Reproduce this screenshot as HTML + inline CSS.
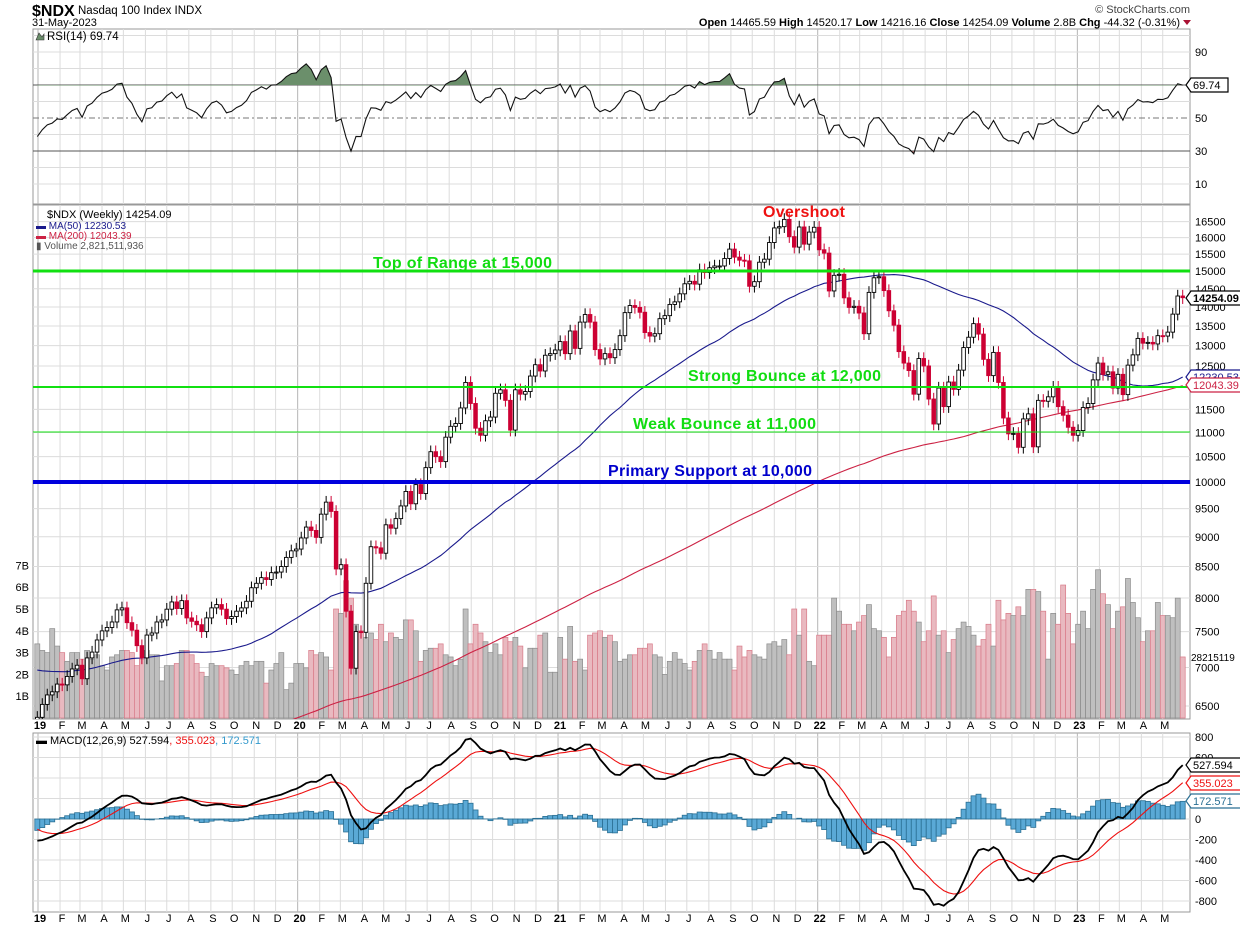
<!DOCTYPE html>
<html><head><meta charset="utf-8"><style>
html,body{margin:0;padding:0;background:#fff;}
svg{display:block;font-family:"Liberation Sans",sans-serif;}
</style></head><body>
<svg id="chart" width="1240" height="928" viewBox="0 0 1240 928" xmlns="http://www.w3.org/2000/svg">
<defs>
<clipPath id="clipMain"><rect x="33" y="205" width="1157" height="514"/></clipPath>
<clipPath id="clipRsiHi"><rect x="33" y="29" width="1157" height="56.5"/></clipPath>
<clipPath id="clipRsiLo"><rect x="33" y="151" width="1157" height="53"/></clipPath>
<clipPath id="clipMacd"><rect x="33" y="733" width="1157" height="179"/></clipPath>
</defs>
<g id="grid"></g>
<g id="vol" clip-path="url(#clipMain)"></g>
<g id="mas" clip-path="url(#clipMain)"></g>
<g id="candles" clip-path="url(#clipMain)"></g>
<g id="rsi"></g>
<g id="macd" clip-path="url(#clipMacd)"></g>
<g id="ann">
  <line x1="33" x2="1190" y1="271" y2="271" stroke="#11e011" stroke-width="3"/>
  <line x1="33" x2="1190" y1="387" y2="387" stroke="#11e011" stroke-width="2"/>
  <line x1="33" x2="1190" y1="432" y2="432" stroke="#11e011" stroke-width="1"/>
  <line x1="33" x2="1190" y1="482" y2="482" stroke="#0000dd" stroke-width="4"/>
  <text x="763" y="217" font-size="16" font-weight="bold" fill="#ee1111" textLength="82">Overshoot</text>
  <text x="373" y="268" font-size="16" font-weight="bold" fill="#11dd11" textLength="179">Top of Range at 15,000</text>
  <text x="688" y="381" font-size="16" font-weight="bold" fill="#11dd11" textLength="193">Strong Bounce at 12,000</text>
  <text x="633" y="429" font-size="16" font-weight="bold" fill="#11dd11" textLength="183">Weak Bounce at 11,000</text>
  <text x="608" y="476" font-size="16" font-weight="bold" fill="#0000cc" textLength="204">Primary Support at 10,000</text>
</g>
<g id="labels">
  <text x="32" y="16" font-size="16" font-weight="bold">$NDX</text>
  <text x="78" y="14" font-size="11.5">Nasdaq 100 Index  INDX</text>
  <text x="32" y="26" font-size="11">31-May-2023</text>
  <text x="1190" y="13" font-size="11" fill="#444" text-anchor="end">© StockCharts.com</text>
  <text x="1180" y="26" font-size="11" text-anchor="end"><tspan font-weight="bold">Open</tspan> 14465.59  <tspan font-weight="bold">High</tspan> 14520.17  <tspan font-weight="bold">Low</tspan> 14216.16  <tspan font-weight="bold">Close</tspan> 14254.09  <tspan font-weight="bold">Volume</tspan> 2.8B  <tspan font-weight="bold">Chg</tspan> -44.32 (-0.31%)</text>
  <path d="M1183 20 L1191 20 L1187 25 Z" fill="#aa1133"/>
  <text x="47" y="40" font-size="11.5">RSI(14) 69.74</text>
  <path d="M36 40 L39 33 L42 37 L44 34 L44 40 Z" fill="#6b8f6b" stroke="#333" stroke-width="0.6"/>
  <text x="47" y="218" font-size="11">$NDX (Weekly) 14254.09</text>
  <text x="36" y="229" font-size="10" fill="#1a1a8c">▬ MA(50) 12230.53</text>
  <text x="36" y="239" font-size="10" fill="#cc2244">▬ MA(200) 12043.39</text>
  <text x="36" y="249" font-size="10" fill="#555">▮ Volume 2,821,511,936</text>
  <text x="36" y="744" font-size="11">▬ MACD(12,26,9) 527.594<tspan fill="#ee1111">, 355.023</tspan><tspan fill="#3399cc">, 172.571</tspan></text>
</g>
<g id="axes"></g>
</svg>
<script>
// ---- data (weekly closes) ----
const preMonthly = [4480,4340,4520,4420,4730,4770,4880,4850,4810,4860,5070,5330,5440,5580,5790,5650,5880,5990,5980,6250,6370,6400,6950,6850,6580,6610,6970,7040,7230,7610,7630,6960,6950,6330];
const preTailWeekly = [7360,7100,7000,6840,6960,7040,6810,6530,6950,6640,6530,5990,6280];
const closes2019 = [6360,6520,6640,6680,6780,6770,6880,6980,7030,6850,7130,7210,7380,7510,7560,7640,7820,7850,7630,7520,7300,7130,7450,7480,7640,7670,7830,7940,7840,7960,7700,7650,7600,7500,7700,7850,7900,7830,7690,7720,7800,7850,7950,8160,8230,8320,8290,8400,8410,8500,8650,8760];
const closes2020 = [8790,8980,9170,9110,8990,9400,9620,9450,8460,8530,7800,6990,7500,7490,8230,8830,8810,8720,9210,9150,9320,9550,9820,9590,9950,9780,10280,10600,10500,10400,10900,11130,11190,11530,12110,11630,11090,10940,11250,11330,11860,11940,11700,11050,11940,11840,11900,12260,12530,12380,12760,12800,12890];
const closes2021 = [13100,12800,13370,12930,13600,13800,13600,12900,12670,12800,12700,12900,13250,13850,14040,13990,13860,13330,13240,13300,13690,13770,14070,14140,14360,14640,14710,14630,15040,14960,15100,15150,15150,15370,15650,15410,15320,15300,14570,14700,15260,15350,15850,16300,16340,16570,16030,15710,16330,15800,16170,16320];
const closes2022 = [15630,15530,14440,14880,14910,14250,13990,14020,13840,13300,14400,14810,14840,14450,13900,13520,12850,12570,12390,11840,12680,12500,11730,11180,11980,11560,12120,11950,12400,12950,13210,13560,13290,12660,12270,12830,12110,11310,10970,10980,10690,11290,11400,10700,11700,11680,11780,12000,11560,11370,11110,10940];
const closes2023 = [11040,11540,11630,12170,12570,12300,12360,11980,12300,11830,12520,12770,13180,13060,13080,13040,13250,13240,13340,13810,14300,14254];
const volumes2019 = [3.4,3.1,3.0,4.1,3.3,3.0,2.6,3.0,3.0,2.7,3.1,2.7,2.9,2.4,2.2,2.8,2.9,3.1,3.1,3.0,2.4,2.7,3.1,2.9,2.9,1.7,2.4,2.4,2.5,3.1,3.1,2.9,2.5,2.1,1.9,2.5,2.4,2.4,2.3,2.2,2.0,2.4,2.6,2.4,2.6,2.6,1.6,2.2,2.5,3.0,1.3,1.6];
const volumes2020 = [2.5,2.5,2.3,3.1,2.9,3.0,2.8,2.2,5.0,4.8,6.3,5.5,4.3,4.0,3.7,3.9,3.6,4.3,3.5,3.9,3.7,3.6,4.5,4.5,4.0,2.6,3.1,3.2,3.2,3.4,2.9,2.8,2.4,2.7,5.0,3.4,4.3,3.9,3.5,3.0,3.4,2.9,3.7,3.5,3.7,3.3,2.3,3.2,3.2,3.8,3.9,2.1,2.1];
const volumes2021 = [3.7,2.7,4.2,2.6,2.7,2.2,3.8,3.9,4.0,3.7,3.8,3.5,2.6,2.7,2.9,2.9,3.2,3.2,3.4,2.9,2.8,2.0,2.6,3.0,2.7,2.5,2.2,2.6,3.1,3.4,3.1,2.7,3.0,2.7,2.7,2.2,3.3,2.8,3.1,2.9,2.8,2.7,3.4,3.5,3.3,3.6,2.9,5.0,3.8,5.0,2.6,2.4];
const volumes2022 = [3.8,3.8,3.8,5.5,4.9,4.3,4.3,4.0,4.4,4.7,5.2,4.1,4.0,3.7,2.8,3.7,4.7,4.9,5.4,4.9,4.4,3.5,4.0,5.6,3.8,4.0,3.0,3.6,4.1,4.4,4.2,3.8,3.3,3.6,4.3,3.3,5.4,4.5,4.8,4.7,5.1,4.7,5.9,5.9,5.8,4.9,2.7,4.8,4.3,6.1,4.8,3.4];
const volumes2023 = [4.3,4.9,4.1,5.9,6.8,5.7,5.2,4.1,4.9,5.1,6.4,5.3,4.6,3.5,4.0,4.0,5.3,4.7,4.7,4.6,5.5,2.8];
const priceTicks = [6500,7000,7500,8000,8500,9000,9500,10000,10500,11000,11500,12000,12500,13000,13500,14000,14500,15000,15500,16000,16500];
const volTicks = [1,2,3,4,5,6,7];
const rsiTicks = [10,30,50,70,90];
const macdTicks = [800,600,0,-200,-400,-600,-800];
const monthLetters = ["J","F","M","A","M","J","J","A","S","O","N","D"];

const NS = "http://www.w3.org/2000/svg";
function mk(tag, attrs, parent){const e=document.createElementNS(NS,tag);for(const k in attrs)e.setAttribute(k,attrs[k]);parent.appendChild(e);return e;}
const closes = [].concat(closes2019,closes2020,closes2021,closes2022,closes2023);
const volumes = [].concat(volumes2019,volumes2020,volumes2021,volumes2022,volumes2023);
const N = closes.length;
const PRE = 148;
const preWeekly = [];
for(let k=0;k<PRE-preTailWeekly.length;k++) preWeekly.push(preMonthly[Math.floor(k*(preMonthly.length-3)/(PRE-preTailWeekly.length))]);
preTailWeekly.forEach(v=>preWeekly.push(v));
const full = preWeekly.concat(closes);

// scales
const xW = i => 37.3 + i*4.98;
const yP = p => 482 - 520*Math.log(p/10000);
const yV = v => 718 - 21.8*v;
const yR = r => 118 - (r-50)*1.65;
const yM = m => 819 - m*0.1025;
const xD = d => 38 + (d - Date.UTC(2019,0,1))/86400000*0.7114;

// grid
const grid = document.getElementById('grid');
const panels = [[29,204],[205,719],[733,912]];
panels.forEach(([t,b])=>{
  const r = mk('rect',{x:33,y:t,width:1157,height:b-t,fill:'none',stroke:'#999','stroke-width':1},grid);
  
  
});
const axes = document.getElementById('axes');
for(let y=2019;y<=2023;y++){
  for(let m=0;m<12;m++){
    const d = Date.UTC(y,m,1);
    if(d > Date.UTC(2023,4,31)) break;
    const x = xD(d);
    panels.forEach(([t,b])=>{
      const l = mk('line',{x1:x,x2:x,y1:t,y2:b,stroke:m===0?'#b5b5b5':'#dcdcdc','stroke-width':1},grid);
      
      
    });
    [729,922].forEach(ty=>{
      const tx = mk('text',{x:x+2,y:ty,'font-size':11,'text-anchor':'middle','font-weight':m===0?'bold':'normal'},axes);
      tx.textContent = m===0 ? String(y).slice(2) : monthLetters[m];
      
      
    });
  }
}
priceTicks.forEach(p=>{
  const y=yP(p);
  const l=mk('line',{x1:33,x2:1190,y1:y,y2:y,stroke:'#dcdcdc'},grid);
  
  
  const t=mk('text',{x:1195,y:y+4,'font-size':11},axes);
  t.textContent=p;
  
  
});
volTicks.forEach(v=>{
  const t=mk('text',{x:29,y:yV(v)+4,'font-size':11,'text-anchor':'end'},axes);
  t.textContent=v+'B';
  
  
});
for(let r=10;r<=100;r+=10){
  if(r===30||r===50||r===70) continue;
  const l=mk('line',{x1:33,x2:1190,y1:yR(r),y2:yR(r),stroke:'#dcdcdc'},grid);
  
  
}
rsiTicks.forEach(r=>{
  const t=mk('text',{x:1195,y:yR(r)+4,'font-size':11},axes);
  t.textContent=r;
  
  
});
for(let m=-800;m<=800;m+=200){
  const l=mk('line',{x1:33,x2:1190,y1:yM(m),y2:yM(m),stroke:'#dcdcdc'},grid);
  
  
}
macdTicks.forEach(m=>{
  const t=mk('text',{x:1195,y:yM(m)+4,'font-size':11},axes);
  t.textContent=m;
  
  
});
function box(x,y,txt,stroke,color,bold){
  const w = txt.length*6.6+4;
  const p=mk('path',{d:`M${x} ${y} L${x+5} ${y-7} L${x+5+w} ${y-7} L${x+5+w} ${y+7} L${x+5} ${y+7} Z`,fill:'#fff',stroke:stroke,'stroke-width':1.2},axes);
  
  
  const t=mk('text',{x:x+7,y:y+4,'font-size':11,fill:color,'font-weight':bold?'bold':'normal'},axes);
  t.textContent=txt;
  
  
}
box(1186,85,'69.74','#000','#000',false);
box(1186,298,'14254.09','#000','#000',true);
box(1186,377,'12230.53','#1a1a8c','#1a1a8c',false);
box(1186,385,'12043.39','#cc2244','#cc2244',false);
box(1186,765,'527.594','#000','#000',false);
box(1186,783,'355.023','#ee1111','#ee1111',false);
box(1186,801,'172.571','#2a6f93','#2a6f93',false);
const vt=mk('text',{x:1191,y:661,'font-size':10},axes);
vt.textContent='28215119';



// volume
const vol=document.getElementById('vol');
for(let i=0;i<N;i++){
  const prev = i===0 ? full[PRE-1] : closes[i-1];
  const down = closes[i] < prev;
  const r=mk('rect',{x:xW(i)-2.5,y:yV(volumes[i]),width:5,height:718-yV(volumes[i]),fill:down?'#e9b9c0':'#bfbfbf',stroke:down?'#d87a88':'#8c8c8c','stroke-width':0.7},vol);
  
  
}

// moving averages
function sma(n){const out=[];for(let i=0;i<N;i++){const j=PRE+i;if(j<n-1){out.push(null);continue;}let s=0;for(let k=j-n+1;k<=j;k++)s+=full[k];out.push(s/n);}return out;}
const mas=document.getElementById('mas');
[[sma(50),'#1a1a8c','ma50-line'],[sma(200),'#cc2244','ma200-line']].forEach(([arr,col,name])=>{
  let d='';arr.forEach((v,i)=>{if(v===null)return;d+=(d?'L':'M')+xW(i).toFixed(1)+' '+yP(v).toFixed(1);});
  const p=mk('path',{d:d,fill:'none',stroke:col,'stroke-width':1.1},mas);
  
  
});

// candles
const cg=document.getElementById('candles');
for(let i=0;i<N;i++){
  const o = i===0 ? full[PRE-1] : closes[i-1];
  const c = closes[i];
  const hi = Math.max(o,c)*1.012, lo = Math.min(o,c)*0.988;
  const up = c>=o;
  const col = up ? '#000' : '#cc0033';
  const x = xW(i);
  const w=mk('line',{x1:x,x2:x,y1:yP(hi),y2:yP(lo),stroke:col,'stroke-width':1},cg);
  
  
  const yt=yP(Math.max(o,c)), yb=yP(Math.min(o,c));
  const b=mk('rect',{x:x-1.8,y:yt,width:3.6,height:Math.max(1,yb-yt),fill:up?'#fff':'#cc0033',stroke:col,'stroke-width':0.9},cg);
  
  
}

// RSI
const rsiVals=[];
{let ag=0,al=0;for(let k=1;k<=14;k++){const ch=full[k]-full[k-1];if(ch>0)ag+=ch;else al-=ch;}ag/=14;al/=14;
 for(let k=15;k<full.length;k++){const ch=full[k]-full[k-1];ag=(ag*13+Math.max(ch,0))/14;al=(al*13+Math.max(-ch,0))/14;
  if(k>=PRE) rsiVals.push(al===0?100:100-100/(1+ag/al));}}
const rg=document.getElementById('rsi');
[[70,'#555','none'],[30,'#555','none'],[50,'#777','6 3 2 3']].forEach(([v,c,da])=>{
  const l=mk('line',{x1:33,x2:1190,y1:yR(v),y2:yR(v),stroke:c,'stroke-width':1,'stroke-dasharray':da},rg);
  
  
});
let rd='';rsiVals.forEach((v,i)=>{rd+=(i?'L':'M')+xW(i).toFixed(1)+' '+yR(v).toFixed(1);});
const fHi=mk('path',{d:rd+`L${xW(N-1)} ${yR(70)}L${xW(0)} ${yR(70)}Z`,fill:'#6b8f6b','clip-path':'url(#clipRsiHi)'},rg);


const fLo=mk('path',{d:rd+`L${xW(N-1)} ${yR(30)}L${xW(0)} ${yR(30)}Z`,fill:'#b07070','clip-path':'url(#clipRsiLo)'},rg);


const rl=mk('path',{d:rd,fill:'none',stroke:'#111','stroke-width':1.1},rg);



// MACD
function ema(arr,n){const a=2/(n+1);const out=[];let e=arr[0];arr.forEach((v,i)=>{e=i?v*a+e*(1-a):v;out.push(e);});return out;}
const e12=ema(full,12), e26=ema(full,26);
const macdFull=full.map((v,i)=>e12[i]-e26[i]);
const sigFull=ema(macdFull,9);
const macdVals=macdFull.slice(PRE), sigVals=sigFull.slice(PRE);
const mg=document.getElementById('macd');
for(let i=0;i<N;i++){
  const h=macdVals[i]-sigVals[i];
  const y0=yM(0), y1=yM(h);
  const r=mk('rect',{x:xW(i)-2.5,y:Math.min(y0,y1),width:5,height:Math.abs(y1-y0),fill:'#5aa9d6',stroke:'#2a6f93','stroke-width':0.8},mg);
  
  
}
[[sigVals,'#ee1111',1.1,'macd-signal-line'],[macdVals,'#000',1.8,'macd-line']].forEach(([arr,c,w,name])=>{
  let d='';arr.forEach((v,i)=>{d+=(i?'L':'M')+xW(i).toFixed(1)+' '+yM(v).toFixed(1);});
  const p=mk('path',{d:d,fill:'none',stroke:c,'stroke-width':w},mg);
  
  
});
</script>
</body></html>
